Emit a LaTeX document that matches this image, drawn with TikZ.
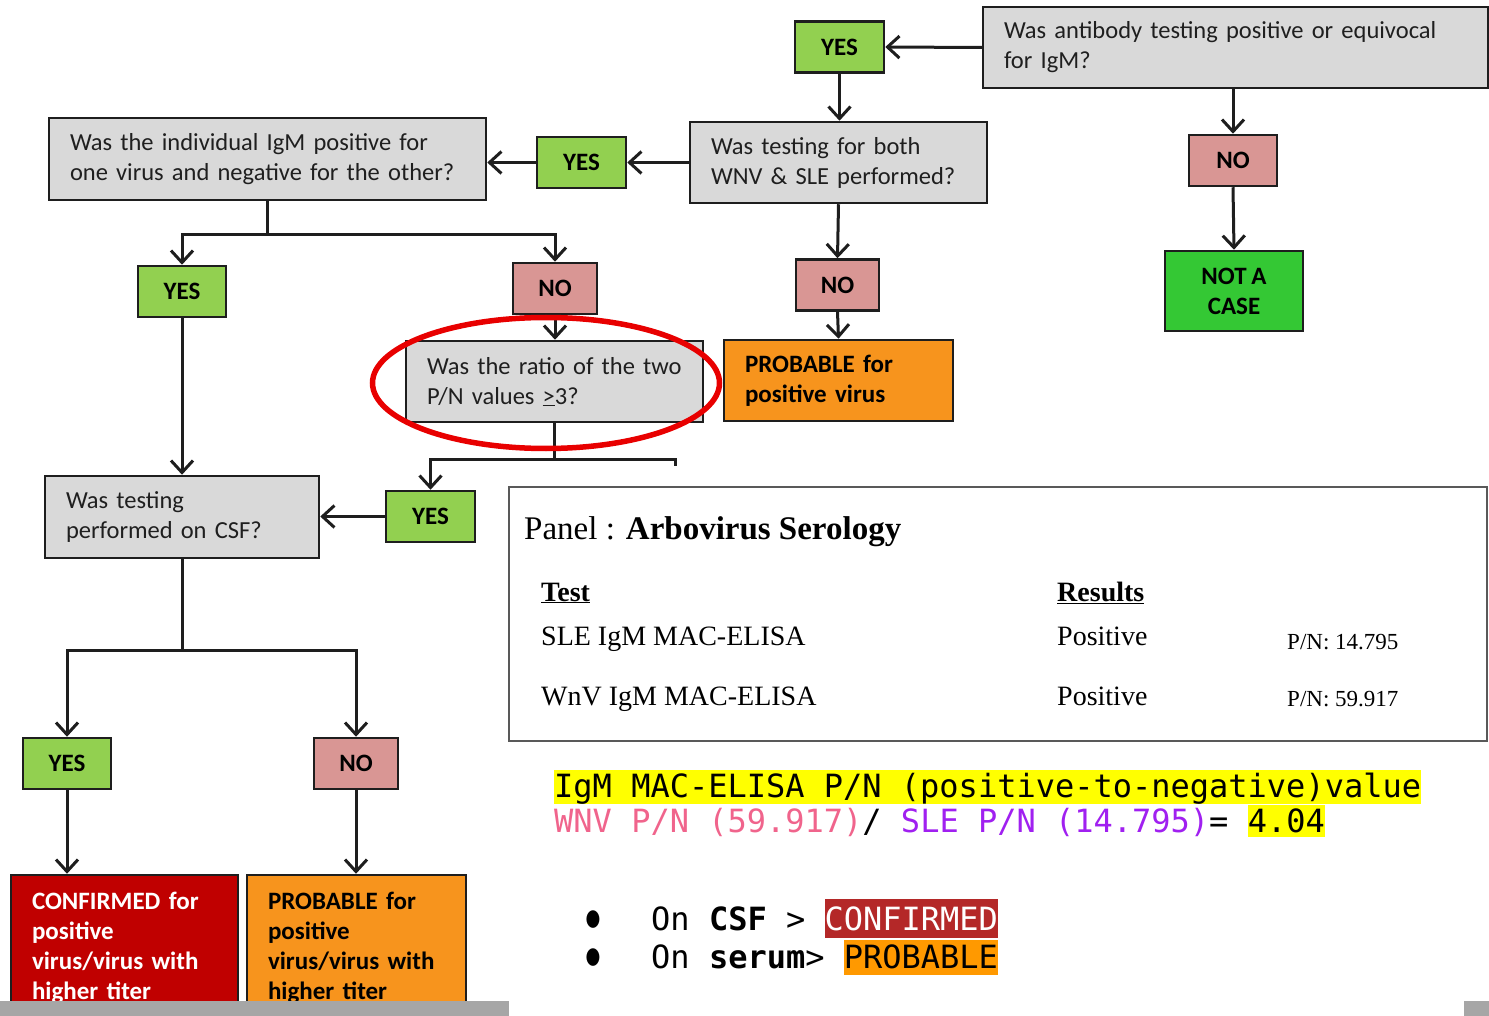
\documentclass[tikz,border=0pt]{standalone}
\usepackage{fontspec}
\setmainfont{Carlito}[WordSpace=0.85]
\newfontfamily\panelfont{Liberation Serif}
\newfontfamily\codefont{DejaVu Sans Mono}
\newfontfamily\symfont{DejaVu Sans}
\usetikzlibrary{arrows.meta,shapes.geometric}

\definecolor{boxgray}{HTML}{D9D9D9}
\definecolor{yesgreen}{HTML}{92D050}
\definecolor{nopink}{HTML}{D99694}
\definecolor{casegreen}{RGB}{52,200,52}
\definecolor{proborange}{HTML}{F7941D}
\definecolor{confred}{HTML}{C00000}
\definecolor{ringred}{RGB}{232,0,0}
\definecolor{edge}{HTML}{1E1E1E}
\definecolor{panelline}{HTML}{595959}
\definecolor{hlyellow}{HTML}{FFFF00}
\definecolor{wnvpink}{RGB}{240,100,140}
\definecolor{slepurple}{RGB}{160,32,240}
\definecolor{hlred}{RGB}{180,40,40}
\definecolor{hlorange}{RGB}{255,153,0}
\definecolor{slidegray}{HTML}{A6A6A6}
\setlength{\fboxsep}{0pt}

\begin{document}
\begin{tikzpicture}[x=1pt,y=-1pt,
  question/.style={draw=edge, fill=boxgray, line width=2.5pt, inner xsep=21pt,
    inner ysep=0pt, align=left, text=black!88, font=\fontsize{24.5}{30}\selectfont},
  outcome/.style={question, text=black, font=\fontsize{25}{30}\selectfont\bfseries},
  answer/.style={draw=edge, line width=2.5pt, inner sep=0pt, align=center,
    font=\fontsize{25}{30}\selectfont\bfseries},
  yesbox/.style={answer, fill=yesgreen, minimum width=89, minimum height=51},
  nobox/.style={answer, fill=nopink, minimum width=84, minimum height=51},
  link/.style={draw=edge, line width=3pt},
  arr/.style={link, -{Straight Barb[length=12pt,width=22pt]}},
  paneltext/.style={anchor=base west, inner sep=0pt, font=\panelfont\fontsize{28}{34}\selectfont},
  codetext/.style={anchor=base west, inner sep=0pt, font=\codefont\fontsize{32}{38}\selectfont},
  dot/.style={inner sep=0pt, font=\symfont\fontsize{20}{24}\selectfont}
]
\useasboundingbox (0,0) rectangle (1489,1016);

% ---- decision boxes and answers ----
\node[question, text width=463, minimum height=81] (q1) at (1235.5,47.5)
  {\mbox{Was antibody testing positive or equivocal}\\\mbox{for IgM?}};
\node[yesbox] (yes1) at (839.5,47) {YES};
\node[question, text width=255, minimum height=81] (q2) at (838.5,162.5)
  {\mbox{Was testing for both}\\\mbox{WNV \& SLE performed?}};
\node[nobox, minimum width=88] (no1) at (1233,160.5) {NO};
\node[answer, fill=casegreen, minimum width=138, minimum height=80] (nc) at (1234,291) {NOT A\\CASE};
\node[yesbox] (yes2) at (581.5,162.5) {YES};
\node[question, text width=395, minimum height=82] (q3) at (267.5,159)
  {\mbox{Was the individual IgM positive for}\\\mbox{one virus and negative for the other?}};
\node[nobox, minimum width=83] (no2) at (837.5,285) {NO};
\node[outcome, fill=proborange, text width=187, minimum height=81] (p1) at (838.5,380.5)
  {\mbox{PROBABLE for}\\\mbox{positive virus}};
\node[yesbox, minimum width=88] (yes3) at (182,291.5) {YES};
\node[nobox] (no3) at (555,288.5) {NO};
\node[question, text width=255, minimum height=81] (q4) at (554.5,381.5)
  {\mbox{Was the ratio of the two}\\\mbox{P/N values \underline{>}3?}};
\node[yesbox] (yes4) at (430.5,516.5) {YES};
\node[question, text width=232, minimum height=82] (q5) at (182,517)
  {\mbox{Was testing}\\\mbox{performed on CSF?}};
\node[yesbox, minimum width=88] (yes5) at (67,763.5) {YES};
\node[nobox] (no5) at (356,763.5) {NO};
\node[outcome, fill=confred, text=white, text width=185, minimum height=146] (conf) at (124.5,948)
  {\mbox{CONFIRMED for}\\\mbox{positive}\\\mbox{virus/virus with}\\\mbox{higher titer}};
\node[outcome, fill=proborange, text width=177, minimum height=146] (p2) at (356.5,948)
  {\mbox{PROBABLE for}\\\mbox{positive}\\\mbox{virus/virus with}\\\mbox{higher titer}};

% ---- connectors ----
\draw[arr] (q1.west) -- (yes1.east);
\draw[arr] (yes1.south) -- (yes1.south |- q2.north);
\draw[arr] (q2.west) -- (yes2.east);
\draw[arr] (yes2.west) -- (yes2.west -| q3.east);
\draw[arr] (no1.north |- q1.south) -- (no1.north);
\draw[arr] (no1.south) -- (nc.north);
\draw[arr] (q2.south) -- (no2.north);
\draw[arr] (no2.south) -- (p1.north);

\coordinate (j1) at (267.5,235);
\draw[link] (q3.south) -- (j1);
\draw[arr] (j1) -| (yes3.north);
\draw[arr] (j1) -| (no3.north);
\draw[arr] (no3.south) -- (no3.south |- q4.north);

\coordinate (j2) at (554.5,459);
\coordinate (stub) at (675,466);
\draw[link] (q4.south) -- (j2);
\draw[arr] (j2) -| (yes4.north);
\draw[link] (j2) -| (stub);
\draw[arr] (yes4.west) -- (yes4.west -| q5.east);
\draw[arr] (yes3.south) -- (q5.north);

\coordinate (j3) at (182,650);
\draw[link] (q5.south) -- (j3);
\draw[arr] (j3) -| (yes5.north);
\draw[arr] (j3) -| (no5.north);
\draw[arr] (yes5.south) -- (yes5.south |- conf.north);
\draw[arr] (no5.south) -- (no5.south |- p2.north);

% ---- highlight ring ----
\node[ellipse, draw=ringred, line width=5.5pt, minimum width=347, minimum height=131] (ring) at (546,383) {};

% ---- results panel ----
\node[draw=panelline, line width=2pt, minimum width=978, minimum height=254, inner sep=0pt] (panel) at (998,614) {};
\node[paneltext, font=\panelfont\fontsize{33}{40}\selectfont] (ptitle) at (524,539) {Panel : \textbf{Arbovirus Serology}};
\node[paneltext] (htest) at (541,601) {\textbf{\underline{Test}}};
\node[paneltext] (hres) at (1057,601) {\textbf{\underline{Results}}};
\node[paneltext] (t1) at (541,645) {SLE IgM MAC-ELISA};
\node[paneltext] (r1) at (1057,645) {Positive};
\node[paneltext, font=\panelfont\fontsize{23}{28}\selectfont] (v1) at (1287,649) {P/N: 14.795};
\node[paneltext] (t2) at (541,705) {WnV IgM MAC-ELISA};
\node[paneltext] (r2) at (1057,705) {Positive};
\node[paneltext, font=\panelfont\fontsize{23}{28}\selectfont] (v2) at (1287,706) {P/N: 59.917};

% ---- ratio calculation ----
\node[codetext] (ln1) at (554,797)
  {\colorbox{hlyellow}{\rule[-6pt]{0pt}{33pt}IgM MAC-ELISA P/N (positive-to-negative)value}};
\node[codetext] (ln2) at (554,832)
  {\textcolor{wnvpink}{WNV P/N (59.917)}/ \textcolor{slepurple}{SLE P/N (14.795)}= \colorbox{hlyellow}{\rule[-5pt]{0pt}{32pt}4.04}};

% ---- classification bullets ----
\node[dot] (d1) at (593,920) {\scalebox{0.85}[1.15]{●}};
\node[dot] (d2) at (593,958) {\scalebox{0.85}[1.15]{●}};
\node[codetext] (b1) at (651,930)
  {On \textbf{CSF} > \colorbox{hlred}{\rule[-8pt]{0pt}{39pt}\textcolor{white}{CONFIRMED}}};
\node[codetext] (b2) at (651,968)
  {On \textbf{serum}> \colorbox{hlorange}{\rule[-7pt]{0pt}{35pt}PROBABLE}};

% ---- slide footer strips ----
\fill[slidegray] (0,1001) rectangle (509,1016);
\fill[slidegray] (1464,1001) rectangle (1489,1016);
\end{tikzpicture}
\end{document}
